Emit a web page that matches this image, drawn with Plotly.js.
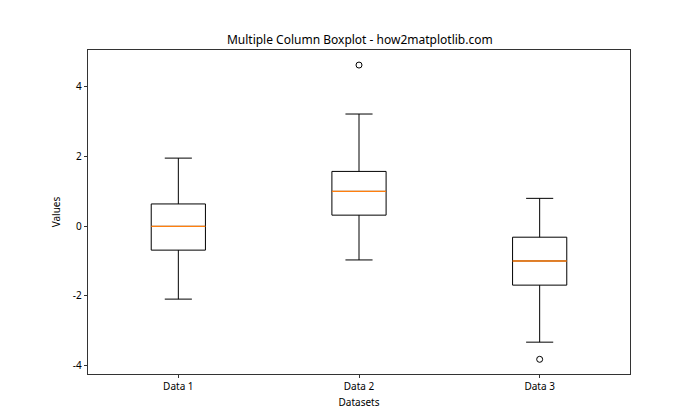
<!DOCTYPE html>
<html>
<head>
<meta charset="utf-8">
<script src="https://cdn.plot.ly/plotly-3.0.1.min.js"></script>
<style>html,body{margin:0;padding:0;background:#fff}#chart{width:700px;height:420px}</style>
</head>
<body>
<div id="chart"></div>
<script>
const categories = ["Data 1", "Data 2", "Data 3"];
const positions = [1, 2, 3];
const lowerWhisker = [-2.09, -0.97, -3.32];
const q1Values = [-0.69, 0.31, -1.69];
const medianValues = [-0.01, 0.99, -1.00];
const q3Values = [0.63, 1.56, -0.32];
const upperWhisker = [1.94, 3.20, 0.79];
const outlierX = [2, 3];
const outlierY = [4.60, -3.81];

const boxWidth = 0.3;
const font = "'Noto Sans', 'DejaVu Sans', sans-serif";

const traces = [{
  type: 'box',
  x: positions,
  q1: q1Values,
  median: medianValues,
  q3: q3Values,
  lowerfence: lowerWhisker,
  upperfence: upperWhisker,
  width: boxWidth,
  whiskerwidth: 0.5,
  fillcolor: 'rgba(255,255,255,0)',
  line: {color: '#000000', width: 1},
  boxpoints: false,
  hoverinfo: 'skip',
  showlegend: false
}];

positions.forEach((p, i) => {
  traces.push({
    type: 'scatter', mode: 'lines',
    x: [p - boxWidth / 2, p + boxWidth / 2],
    y: [medianValues[i], medianValues[i]],
    line: {color: '#ff7f0e', width: 1.3},
    hoverinfo: 'skip', showlegend: false
  });
});

traces.push({
  type: 'scatter', mode: 'markers',
  x: outlierX, y: outlierY,
  marker: {symbol: 'circle-open', size: 6, color: '#000000', line: {width: 1, color: '#000000'}},
  hoverinfo: 'skip', showlegend: false
});

const layout = {
  width: 700, height: 420,
  margin: {l: 88, r: 70, t: 50, b: 46},
  paper_bgcolor: '#ffffff', plot_bgcolor: '#ffffff',
  font: {family: font, size: 10, color: '#000000'},
  title: {text: 'Multiple Column Boxplot - how2matplotlib.com', x: 0.514, xanchor: 'center', y: 0.905, yanchor: 'middle', font: {family: font, size: 12, color: '#000000'}},
  showlegend: false,
  xaxis: {
    range: [0.5, 3.5],
    tickmode: 'array', tickvals: positions, ticktext: categories,
    ticks: 'outside', ticklen: 3.5, tickwidth: 0.8, tickcolor: '#000',
    showgrid: false, zeroline: false,
    showline: true, mirror: true, linecolor: '#000', linewidth: 0.8,
    title: {text: 'Datasets', standoff: 6, font: {family: font, size: 10}}
  },
  yaxis: {
    range: [-4.23, 5.03],
    tickmode: 'array', tickvals: [-4, -2, 0, 2, 4], ticktext: ['-4', '-2', '0', '2', '4'],
    ticks: 'outside', ticklen: 3.5, tickwidth: 0.8, tickcolor: '#000',
    showgrid: false, zeroline: false,
    showline: true, mirror: true, linecolor: '#000', linewidth: 0.8,
    title: {text: 'Values', standoff: 10, font: {family: font, size: 10}}
  }
};

Plotly.newPlot('chart', traces, layout, {staticPlot: true, displayModeBar: false});
</script>
</body>
</html>
